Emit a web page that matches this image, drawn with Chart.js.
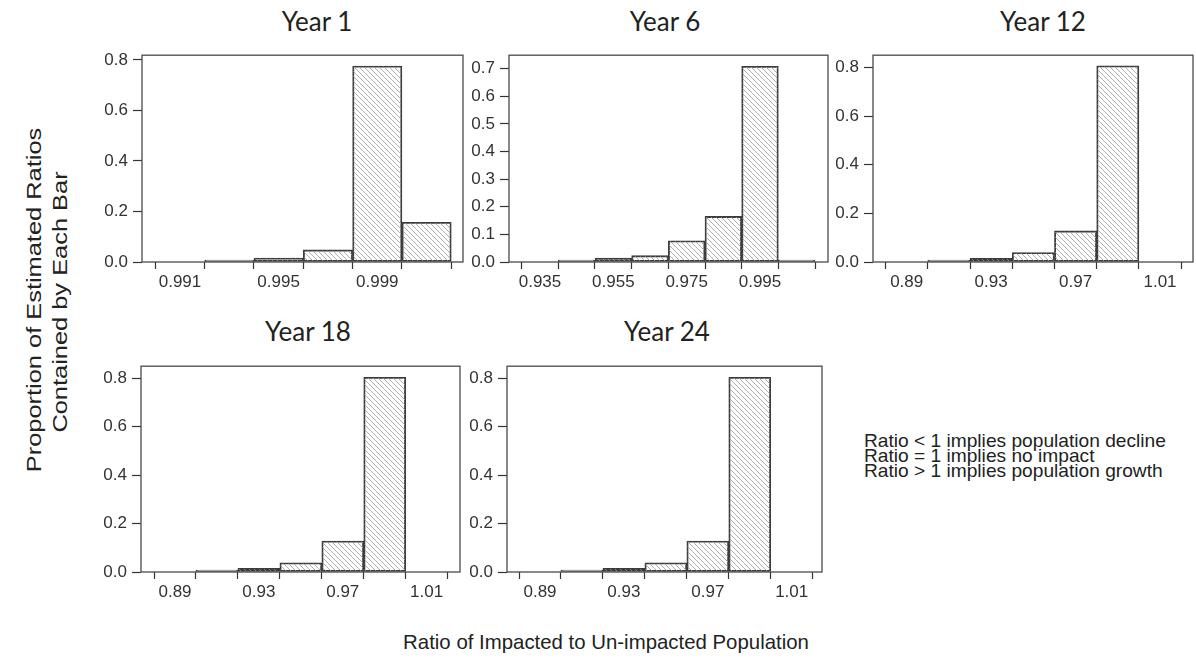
<!DOCTYPE html>
<html>
<head>
<meta charset="utf-8">
<script src="https://cdn.jsdelivr.net/npm/chart.js@4.4.1/dist/chart.umd.min.js"></script>
<style>
  html, body { margin: 0; padding: 0; background: #fff; }
  #fig { position: relative; width: 1196px; height: 660px; overflow: hidden; background: #fff;
         font-family: "Liberation Sans", Arial, sans-serif; color: #222; }
  #fig canvas { position: absolute; }
  .title { position: absolute; font-family: Lato, sans-serif; font-size: 26px; line-height: 1;
           color: #222; white-space: nowrap; transform: translateX(-50%); }
  .ylab { position: absolute; font-size: 20px; line-height: 1; white-space: nowrap; color: #222;
          transform: translate(-50%, -50%) rotate(-90deg) scaleX(1.27); }
  .xlab { position: absolute; font-size: 20.4px; line-height: 1; white-space: nowrap; color: #222;
          transform: translateX(-50%); }
  .note { position: absolute; left: 864px; top: 433px; font-size: 18.6px; line-height: 15px;
          white-space: nowrap; color: #222; transform-origin: 0 0; transform: scaleX(1.03); }
</style>
</head>
<body>
<div id="fig">
  <canvas id="p1"></canvas>
  <canvas id="p2"></canvas>
  <canvas id="p3"></canvas>
  <canvas id="p4"></canvas>
  <canvas id="p5"></canvas>

  <div class="title" style="left:317px; top:8px;">Year 1</div>
  <div class="title" style="left:665px; top:8px;">Year 6</div>
  <div class="title" style="left:1043px; top:8px;">Year 12</div>
  <div class="title" style="left:308px; top:318px;">Year 18</div>
  <div class="title" style="left:667px; top:318px;">Year 24</div>

  <div class="ylab" style="left:34px; top:300px;">Proportion of Estimated Ratios</div>
  <div class="ylab" style="left:60px; top:302px;">Contained by Each Bar</div>

  <div class="xlab" style="left:606px; top:632px;">Ratio of Impacted to Un-impacted Population</div>

  <div class="note">Ratio &lt; 1 implies population decline<br>Ratio = 1 implies no impact<br>Ratio &gt; 1 implies population growth</div>
</div>

<script>
// ---- Year 1 ----
const year1Edges = [0.992, 0.994, 0.996, 0.998, 1.000, 1.002];
const year1Props = [0.003, 0.016, 0.048, 0.776, 0.157];
const year1XTicks = [0.991, 0.993, 0.995, 0.997, 0.999, 1.001];
const year1XLabels = ['0.991', '', '0.995', '', '0.999', ''];
const year1YTicks = [0, 0.2, 0.4, 0.6, 0.8];

// ---- Year 6 ----
const year6Edges = [0.94, 0.95, 0.96, 0.97, 0.98, 0.99, 1.00, 1.01];
const year6Props = [0.003, 0.014, 0.023, 0.077, 0.165, 0.709, 0.003];
const year6XTicks = [0.935, 0.945, 0.955, 0.965, 0.975, 0.985, 0.995, 1.005];
const year6XLabels = ['0.935', '', '0.955', '', '0.975', '', '0.995', ''];
const year6YTicks = [0, 0.1, 0.2, 0.3, 0.4, 0.5, 0.6, 0.7];

// ---- Year 12 ----
const year12Edges = [0.90, 0.92, 0.94, 0.96, 0.98, 1.00];
const year12Props = [0.004, 0.015, 0.039, 0.128, 0.807];

// ---- Year 18 ----
const year18Edges = [0.90, 0.92, 0.94, 0.96, 0.98, 1.00];
const year18Props = [0.004, 0.015, 0.038, 0.128, 0.804];

// ---- Year 24 ----
const year24Edges = [0.90, 0.92, 0.94, 0.96, 0.98, 1.00];
const year24Props = [0.004, 0.015, 0.038, 0.128, 0.804];

// shared axis ticks for the later years
const lateXTicks = [0.89, 0.91, 0.93, 0.95, 0.97, 0.99, 1.01];
const lateXLabels = ['0.89', '', '0.93', '', '0.97', '', '1.01'];
const lateYTicks = [0, 0.2, 0.4, 0.6, 0.8];

// plot box of each panel (page pixels) and its axis limits
const panels = [
  { id: 'p1', box: [142, 43, 463, 262], xMin: 0.989459, xMax: 1.002476, yMax: 0.8187,
    edges: year1Edges, props: year1Props, xTicks: year1XTicks, xLabels: year1XLabels, yTicks: year1YTicks },
  { id: 'p2', box: [509, 43, 828, 262], xMin: 0.926546, xMax: 1.013545, yMax: 0.749,
    edges: year6Edges, props: year6Props, xTicks: year6XTicks, xLabels: year6XLabels, yTicks: year6YTicks },
  { id: 'p3', box: [873, 43, 1193, 262], xMin: 0.874036, xMax: 1.025623, yMax: 0.8505,
    edges: year12Edges, props: year12Props, xTicks: lateXTicks, xLabels: lateXLabels, yTicks: lateYTicks },
  { id: 'p4', box: [141, 354, 460, 572], xMin: 0.873787, xMax: 1.025906, yMax: 0.8495,
    edges: year18Edges, props: year18Props, xTicks: lateXTicks, xLabels: lateXLabels, yTicks: lateYTicks },
  { id: 'p5', box: [507, 354, 822, 572], xMin: 0.874267, xMax: 1.024446, yMax: 0.8495,
    edges: year24Edges, props: year24Props, xTicks: lateXTicks, xLabels: lateXLabels, yTicks: lateYTicks }
];

const Y_AXIS_W = 60, X_AXIS_H = 32, PAD_TOP = 3, PAD_RIGHT = 3;
const INK = '#333';
const tickFont = { family: '"Liberation Sans", Arial, sans-serif', size: 17 };

// diagonal "\" hatching used as the bar fill
function hatchPattern(ctx) {
  const s = 5;
  const c = document.createElement('canvas');
  c.width = s; c.height = s;
  const g = c.getContext('2d');
  g.strokeStyle = '#a6a6a6';
  g.lineWidth = 0.9;
  g.beginPath();
  g.moveTo(0, 0); g.lineTo(s, s);
  g.moveTo(-1, s - 1); g.lineTo(1, s + 1);
  g.moveTo(s - 1, -1); g.lineTo(s + 1, 1);
  g.stroke();
  return ctx.createPattern(c, 'repeat');
}

// box drawn around the plotting region
const framePlugin = {
  id: 'frame',
  afterDatasetsDraw(chart) {
    const { ctx, chartArea: a } = chart;
    ctx.save();
    ctx.strokeStyle = '#4a4a4a';
    ctx.lineWidth = 1.3;
    ctx.strokeRect(a.left, a.top, a.right - a.left, a.bottom - a.top);
    ctx.restore();
  }
};

panels.forEach(p => {
  const [L, T, R, B] = p.box;
  const canvas = document.getElementById(p.id);
  const w = (R - L) + Y_AXIS_W + PAD_RIGHT;
  const h = (B - T) + PAD_TOP + X_AXIS_H;
  canvas.width = w; canvas.height = h;
  canvas.style.left = (L - Y_AXIS_W) + 'px';
  canvas.style.top = (T - PAD_TOP) + 'px';
  const ctx = canvas.getContext('2d');

  const points = p.props.map((v, i) => ({ x: (p.edges[i] + p.edges[i + 1]) / 2, y: v }));

  new Chart(ctx, {
    type: 'bar',
    data: {
      datasets: [{
        data: points,
        backgroundColor: hatchPattern(ctx),
        borderColor: '#3c3c3c',
        borderWidth: 1.2,
        borderSkipped: false,
        minBarLength: 2,
        barPercentage: 1,
        categoryPercentage: 1,
        grouped: false
      }]
    },
    options: {
      responsive: false,
      devicePixelRatio: 1,
      animation: false,
      events: [],
      layout: { padding: { top: PAD_TOP, right: PAD_RIGHT, left: 0, bottom: 0 } },
      plugins: { legend: { display: false }, tooltip: { enabled: false }, title: { display: false } },
      scales: {
        x: {
          type: 'linear',
          min: p.xMin, max: p.xMax,
          offset: false,
          afterBuildTicks: s => { s.ticks = p.xTicks.map(v => ({ value: v })); },
          afterFit: s => { s.height = X_AXIS_H; },
          border: { display: false },
          grid: { display: true, drawOnChartArea: false, drawTicks: true, tickLength: 7, tickColor: INK, tickWidth: 1.2 },
          ticks: { autoSkip: false, maxRotation: 0, minRotation: 0, padding: 3, color: INK, font: tickFont,
                   callback: (v, i) => p.xLabels[i] }
        },
        y: {
          min: 0, max: p.yMax,
          afterBuildTicks: s => { s.ticks = p.yTicks.map(v => ({ value: v })); },
          afterFit: s => { s.width = Y_AXIS_W; },
          border: { display: false },
          grid: { display: true, drawOnChartArea: false, drawTicks: true, tickLength: 9, tickColor: INK, tickWidth: 1.2 },
          ticks: { autoSkip: false, padding: 5, color: INK, font: tickFont,
                   callback: v => Number(v).toFixed(1) }
        }
      }
    },
    plugins: [framePlugin]
  });
});
</script>
</body>
</html>
